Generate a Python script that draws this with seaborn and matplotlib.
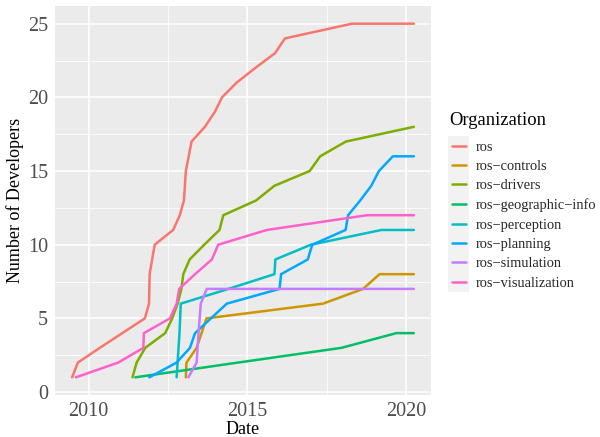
import matplotlib
matplotlib.use("Agg")
import matplotlib.pyplot as plt
import seaborn as sns
import pandas as pd
from matplotlib.patches import Rectangle

# Entwicklerzahlen je Organisation
organisations = ["ros", "ros−controls", "ros−drivers", "ros−geographic−info",
                 "ros−perception", "ros−planning", "ros−simulation", "ros−visualization"]
colours = ["#F8766D", "#CD9600", "#7CAE00", "#00BE67",
           "#00BFC4", "#00A9FF", "#C77CFF", "#FF61CC"]

ros_years = [2009.48, 2009.66, 2010.35, 2011.77, 2011.90, 2011.92, 2012.08, 2012.66,
             2012.87, 2013.00, 2013.06, 2013.24, 2013.66, 2013.97, 2014.20, 2014.66,
             2015.25, 2015.87, 2016.18, 2018.29, 2020.24]
ros_devs = [1, 2, 3, 5, 6, 8, 10, 11, 12, 13, 15, 17, 18, 19, 20, 21, 22, 23, 24, 25, 25]

controls_years = [2013.06, 2013.08, 2013.40, 2013.71, 2017.38, 2018.64, 2019.16, 2020.24]
controls_devs = [1, 2, 3, 5, 6, 7, 8, 8]

drivers_years = [2011.38, 2011.51, 2011.78, 2012.41, 2012.63, 2012.80, 2012.92, 2012.98,
                 2013.18, 2013.64, 2014.12, 2014.24, 2015.27, 2015.85, 2016.96, 2017.29,
                 2018.10, 2020.24]
drivers_devs = [1, 2, 3, 4, 5, 6, 7, 8, 9, 10, 11, 12, 13, 14, 15, 16, 17, 18]

geo_years = [2011.47, 2014.70, 2017.96, 2019.69, 2020.24]
geo_devs = [1, 2, 3, 4, 4]

perception_years = [2012.77, 2012.86, 2012.90, 2014.40, 2015.85, 2015.88, 2017.00,
                    2019.22, 2020.24]
perception_devs = [1, 4, 6, 7, 8, 9, 10, 11, 11]

planning_years = [2011.91, 2012.77, 2013.19, 2013.35, 2013.85, 2014.35, 2016.01, 2016.06,
                  2016.90, 2017.04, 2018.09, 2018.17, 2018.55, 2018.90, 2019.14, 2019.58,
                  2020.24]
planning_devs = [1, 2, 3, 4, 5, 6, 7, 8, 9, 10, 11, 12, 13, 14, 15, 16, 16]

simulation_years = [2013.14, 2013.40, 2013.46, 2013.53, 2013.72, 2020.24]
simulation_devs = [1, 2, 4, 6, 7, 7]

vis_years = [2009.60, 2010.93, 2011.72, 2011.74, 2012.56, 2012.77, 2012.85, 2013.35,
             2013.88, 2014.08, 2015.61, 2018.76, 2020.24]
vis_devs = [1, 2, 3, 4, 5, 6, 7, 8, 9, 10, 11, 12, 12]

all_years = [ros_years, controls_years, drivers_years, geo_years,
             perception_years, planning_years, simulation_years, vis_years]
all_devs = [ros_devs, controls_devs, drivers_devs, geo_devs,
            perception_devs, planning_devs, simulation_devs, vis_devs]

rows = []
for org, yrs, devs in zip(organisations, all_years, all_devs):
    for x, y in zip(yrs, devs):
        rows.append({"Date": x, "Developers": y, "Organization": org})
df = pd.DataFrame(rows)

sns.set_theme(style="darkgrid")
plt.rcParams["font.family"] = ["Liberation Serif", "DejaVu Serif"]

W, H = 600, 437
fig = plt.figure(figsize=(6, 4.37), dpi=100)
ax = fig.add_axes([55 / W, 1 - 395 / H, (431 - 55) / W, (395 - 6) / H])
ax.set_facecolor("#EBEBEB")

sns.lineplot(data=df, x="Date", y="Developers", hue="Organization",
             palette=colours, hue_order=organisations, estimator=None,
             sort=False, linewidth=1.8, ax=ax)

ax.set_xlim(2008.94, 2020.78)
ax.set_ylim(-0.2, 26.2)
ax.set_xticks([2010, 2015, 2020])
ax.set_xticks([2012.5, 2017.5], minor=True)
ax.set_yticks([0, 5, 10, 15, 20, 25])
ax.set_yticks([2.5, 7.5, 12.5, 17.5, 22.5], minor=True)
ax.grid(which="major", color="white", linewidth=1.1)
ax.grid(which="minor", color="white", linewidth=0.55)
for s in ax.spines.values():
    s.set_visible(False)
ax.tick_params(axis="both", which="major", length=3, width=0.8, color="#333333",
               labelsize=14.5, labelcolor="#4D4D4D", pad=2)
ax.tick_params(axis="both", which="minor", length=0)
ax.set_xlabel("Date", fontsize=13, color="black", labelpad=0)
ax.set_ylabel("Number of Developers", fontsize=13, color="black", labelpad=3)

# Legende: Titel separat, Einträge darunter
ax.get_legend().remove()
fig.text(449 / W, 1 - 125 / H, "Organization", fontsize=13.4, color="black",
         ha="left", va="baseline")
handles = [plt.Line2D([], [], color=c, linewidth=1.8) for c in colours]
leg = fig.legend(handles, organisations, loc="upper left",
                 bbox_to_anchor=(445 / W, 1 - 134 / H), frameon=False,
                 fontsize=10.4, borderpad=0, handlelength=0.97,
                 handletextpad=0.69, labelspacing=0.43)

# Position so nachjustieren, dass die erste Linie bei (452, 145.7) liegt
fig.canvas.draw()
e = leg.get_lines()[0].get_window_extent()
dx = 452 - e.x0
dy = (H - 145.7) - (e.y0 + e.y1) / 2
leg.set_bbox_to_anchor(((445 + dx) / W, (H - 134 + dy) / H), transform=fig.transFigure)
fig.canvas.draw()

inv = fig.transFigure.inverted()
exts = [ln.get_window_extent() for ln in leg.get_lines()]
x0 = min(e.x0 for e in exts) - 4
x1 = max(e.x1 for e in exts) + 2.5
y0 = min((e.y0 + e.y1) / 2 for e in exts) - 10
y1 = max((e.y0 + e.y1) / 2 for e in exts) + 9.7
(fx0, fy0), (fx1, fy1) = inv.transform([(x0, y0), (x1, y1)])
fig.patches.append(Rectangle((fx0, fy0), fx1 - fx0, fy1 - fy0, transform=fig.transFigure,
                             facecolor="#F2F2F2", edgecolor="none", zorder=-1))

fig.savefig("out.png", dpi=100)
